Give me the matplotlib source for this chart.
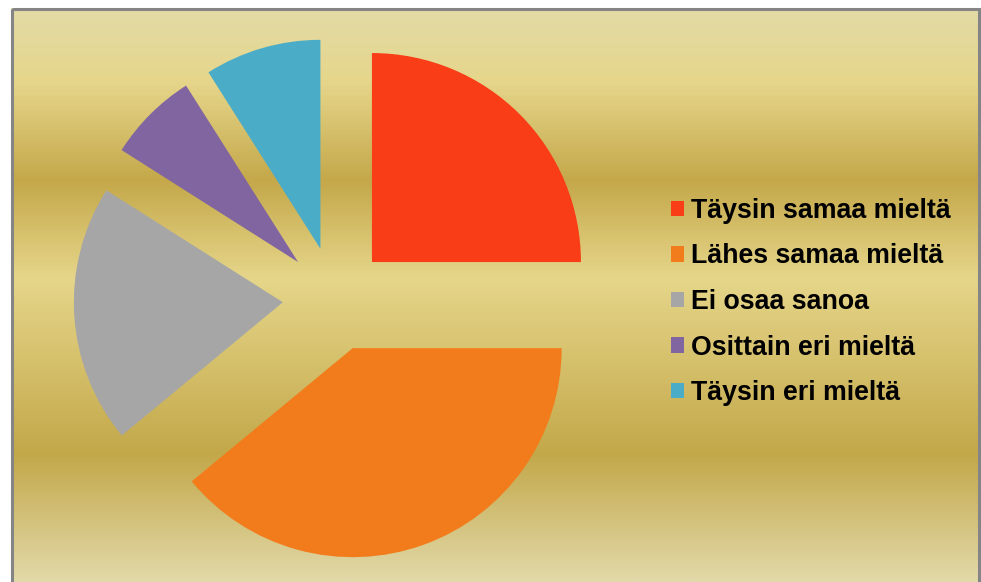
import numpy as np
import matplotlib
matplotlib.use('Agg')
import matplotlib.pyplot as plt
from matplotlib.colors import LinearSegmentedColormap
from matplotlib.patches import Rectangle

# data
labels = ['Täysin samaa mieltä', 'Lähes samaa mieltä', 'Ei osaa sanoa',
          'Osittain eri mieltä', 'Täysin eri mieltä']
values = [25, 39, 20, 7, 9]
colors = ['#f83d17', '#f27c1b', '#a6a6a6', '#8065a1', '#4aacc6']

W, H = 981, 582
fig = plt.figure(figsize=(W / 100, H / 100), dpi=100)
fig.patch.set_facecolor('white')

# background (pixel coords, y from top)
bg = fig.add_axes([0, 0, 1, 1])
bg.set_xlim(0, W)
bg.set_ylim(H, 0)
bg.axis('off')

stops = [(8, '#e3dba6'), (80, '#e6d68b'), (180, '#c4a84a'),
         (278, '#e6d68a'), (455, '#c3a84a'), (582, '#e2d9a9')]
y0, y1 = stops[0][0], stops[-1][0]
cmap = LinearSegmentedColormap.from_list(
    'gold', [((y - y0) / (y1 - y0), c) for y, c in stops])
grad = np.linspace(0, 1, 400).reshape(-1, 1)
bg.imshow(grad, cmap=cmap, aspect='auto', extent=(11, 979, y1, y0),
          interpolation='bilinear')
bg.add_patch(Rectangle((11.5, 8.5), 967, 600, fill=False,
                       edgecolor='#858585', linewidth=2.2))

# pie: 1 data unit = 209 px, centre at (335, 299)
r = 209
cx, cy = 335, 299
ax = fig.add_axes([(cx - 2 * r) / W, (H - cy - 2 * r) / H, 4 * r / W, 4 * r / H])
ax.patch.set_alpha(0)
wedges, _ = ax.pie(values, colors=colors, startangle=90, counterclock=False,
                   explode=[0.25] * len(values), radius=1,
                   wedgeprops=dict(linewidth=0))
ax.set_xlim(-2, 2)
ax.set_ylim(-2, 2)
ax.axis('off')

leg = fig.legend(wedges, labels, loc='center left',
                 bbox_to_anchor=(671 / W, 1 - 302 / H),
                 frameon=False, borderpad=0, borderaxespad=0,
                 handlelength=0.5, handleheight=0.5, handletextpad=0.25,
                 labelspacing=0.73,
                 prop=dict(family='Liberation Sans', weight='bold', size=19.3))

fig.savefig('out.png', dpi=100)
